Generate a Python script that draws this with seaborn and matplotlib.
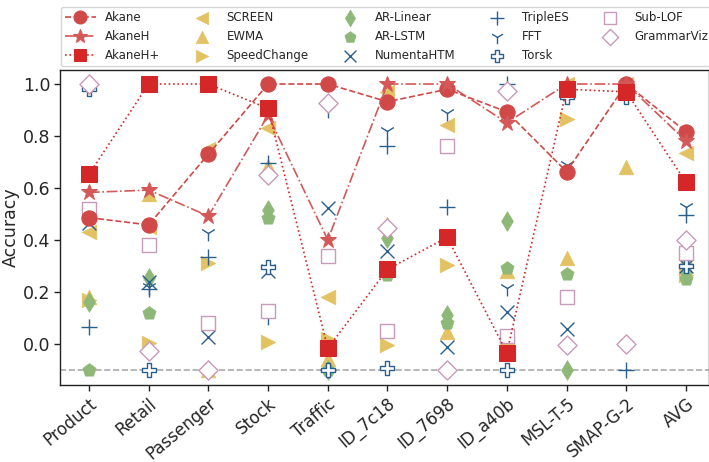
import matplotlib
matplotlib.use("Agg")
import matplotlib.pyplot as plt
import seaborn as sns
import numpy as np
import pandas as pd

categories = ["Product", "Retail", "Passenger", "Stock", "Traffic", "ID_7c18",
              "ID_7698", "ID_a40b", "MSL-T-5", "SMAP-G-2", "AVG"]

akane      = [0.486, 0.458, 0.730, 1.000, 1.000, 0.932, 0.980, 0.893, 0.663, 1.000, 0.817]
akane_h    = [0.583, 0.592, 0.492, 0.880, 0.400, 1.000, 1.000, 0.851, 1.000, 1.000, 0.781]
akane_hp   = [0.653, 1.000, 1.000, 0.906, -0.017, 0.287, 0.410, -0.033, 0.980, 0.970, 0.622]

screen     = [0.432, 0.450, 0.750, 0.830, 0.180, 0.970, 0.842, 0.003, 1.000, 1.000, 0.736]
ewma       = [0.182, 0.575, -0.100, 0.685, -0.059, 0.462, 0.047, 0.282, 0.332, 0.680, 0.326]
speedchange= [0.170, 0.003, 0.310, 0.009, 0.018, -0.004, 0.304, 0.000, 0.864, 0.990, 0.265]
ar_linear  = [0.160, 0.253, -0.100, 0.515, -0.100, 0.407, 0.110, 0.473, -0.100, 0.990, 0.275]
ar_lstm    = [-0.100, 0.120, -0.100, 0.483, -0.100, 0.265, 0.080, 0.291, 0.268, 0.990, 0.250]
numenta    = [0.464, 0.240, 0.028, 0.282, 0.522, 0.359, -0.010, 0.124, 0.056, 0.985, 0.300]
triplees   = [0.067, 0.210, 0.336, 0.695, -0.100, 0.762, 0.528, 1.000, 0.975, -0.100, 0.496]
fft        = [0.990, 0.220, 0.426, 0.105, 0.900, 0.820, 0.887, 0.214, 0.688, 0.000, 0.528]
torsk      = [0.980, -0.100, -0.100, 0.297, -0.100, -0.094, -0.100, -0.100, 0.950, 0.950, 0.300]
sub_lof    = [0.519, 0.381, 0.080, 0.128, 0.340, 0.051, 0.762, 0.031, 0.182, 0.985, 0.349]
grammarviz = [1.000, -0.026, -0.100, 0.650, 0.928, 0.445, -0.100, 0.975, -0.004, 0.000, 0.400]

sns.set_theme(style="ticks")
plt.rcParams['font.family'] = ['DejaVu Sans']

fig = plt.figure(figsize=(7.09, 4.62), dpi=100)
W, H = 709, 462
ax = fig.add_axes([60 / W, (H - 385) / H, (709 - 60) / W, (385 - 70) / H])

x = np.arange(len(categories))

YEL = "#e2c262"
GRN = "#8db878"
BLU = "#2b5f8e"
PNK = "#c79bb9"

others = [
    ("SCREEN", screen, dict(marker="<", color=YEL, s=110)),
    ("EWMA", ewma, dict(marker="^", color=YEL, s=110)),
    ("SpeedChange", speedchange, dict(marker=">", color=YEL, s=110)),
    ("AR-Linear", ar_linear, dict(marker="d", color=GRN, s=100)),
    ("AR-LSTM", ar_lstm, dict(marker="p", color=GRN, s=100)),
    ("NumentaHTM", numenta, dict(marker="x", color=BLU, s=100, linewidth=1.0)),
    ("TripleES", triplees, dict(marker="+", color=BLU, s=130, linewidth=1.0)),
    ("FFT", fft, dict(marker="1", color=BLU, s=130, linewidth=1.0)),
    ("Torsk", torsk, dict(marker="P", facecolor="white", edgecolor=BLU, s=110, linewidth=1.0)),
    ("Sub-LOF", sub_lof, dict(marker="s", facecolor="white", edgecolor=PNK, s=95, linewidth=1.0)),
    ("GrammarViz", grammarviz, dict(marker="D", facecolor="white", edgecolor=PNK, s=95, linewidth=1.0)),
]

ax.axhline(-0.1, color="#aaaaaa", linestyle="--", linewidth=1.2, zorder=1)

for name, vals, kw in others:
    kw = dict(kw)
    if "color" in kw and kw["marker"] in ("x", "+", "1"):
        c = kw.pop("color")
        sns.scatterplot(x=x, y=vals, ax=ax, label=name, color=c, zorder=3, **kw)
    elif "color" in kw:
        c = kw.pop("color")
        sns.scatterplot(x=x, y=vals, ax=ax, label=name, color=c, edgecolor=c, linewidth=0.5, zorder=3, **kw)
    else:
        sns.scatterplot(x=x, y=vals, ax=ax, label=name, zorder=3, **kw)

lines = [
    ("Akane", akane, "--", "o", "#d04848"),
    ("AkaneH", akane_h, "-.", "*", "#d45858"),
    ("AkaneH+", akane_hp, ":", "s", "#d62728"),
]
for name, vals, ls, mk, col in lines:
    sns.lineplot(x=x, y=vals, ax=ax, label=name, color=col, linestyle=ls,
                 marker=mk, markersize=11 if mk != "*" else 12, markeredgecolor=col,
                 linewidth=1.2, zorder=4)

ax.set_xlim(-0.486, 10.386)
ax.set_ylim(-0.158, 1.054)
ax.set_yticks([0.0, 0.2, 0.4, 0.6, 0.8, 1.0])
ax.set_yticklabels(["0.0", "0.2", "0.4", "0.6", "0.8", "1.0"], fontsize=12.5)
ax.set_xticks(x)
ax.set_xticklabels(categories, rotation=40, ha="right", rotation_mode="anchor", fontsize=12)
ax.set_ylabel("Accuracy", fontsize=12.5, labelpad=2)
ax.set_xlabel("")
for sp in ax.spines.values():
    sp.set_color("#222222")
    sp.set_linewidth(1.0)
ax.tick_params(axis="both", direction="out", length=4, width=1, color="#222222", pad=3)

handles, labels = ax.get_legend_handles_labels()
order = ["Akane", "AkaneH", "AkaneH+", "SCREEN", "EWMA", "SpeedChange",
         "AR-Linear", "AR-LSTM", "NumentaHTM", "TripleES", "FFT", "Torsk",
         "Sub-LOF", "GrammarViz"]
hmap = dict(zip(labels, handles))
ax.get_legend().remove()
fig.legend([hmap[k] for k in order], order, ncol=5, loc="upper left",
           bbox_to_anchor=(55 / W, 1 - 1 / H), fontsize=8.5, frameon=True,
           columnspacing=2.2, handlelength=2.6, handletextpad=0.8,
           labelspacing=0.5, markerscale=0.85,
           borderpad=0.35, edgecolor="#cccccc")

fig.savefig("out.png", dpi=100)
